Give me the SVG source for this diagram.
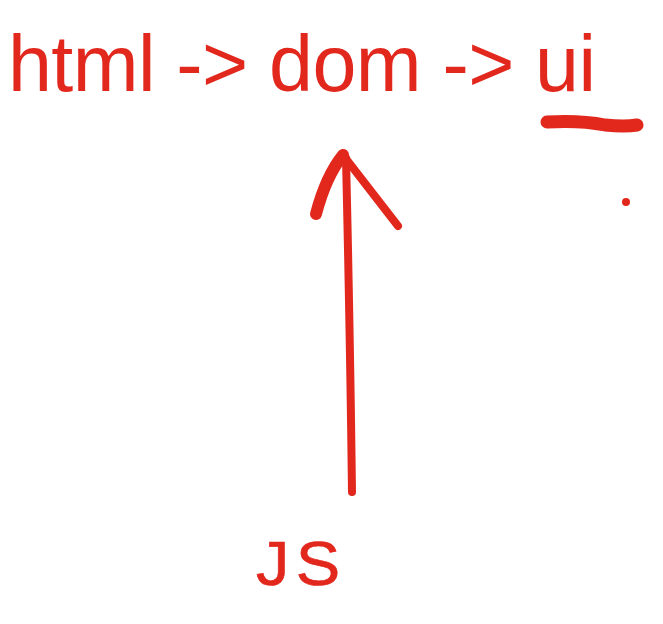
<svg xmlns="http://www.w3.org/2000/svg" width="663" height="624" viewBox="0 0 663 624">
<style>
.t{font-family:"Liberation Sans",Arial,sans-serif;fill:#e2271d}
.s{fill:none;stroke:#e2271d;stroke-linecap:round;stroke-linejoin:round}
</style>
<rect width="663" height="624" fill="#fff"/>
<g id="title"><text class="t" x="8" y="91" font-size="79" textLength="588" lengthAdjust="spacing">html -&gt; dom -&gt; ui</text></g>
<g id="underline"><path class="s" d="M547 122 Q580 120 605 125 Q625 127 637 125" stroke-width="13"/></g>
<g id="dot"><circle cx="626" cy="202" r="4" fill="#e2271d"/></g>
<g id="js"><text class="t" transform="translate(256 585) scale(1.06 1)" x="0" y="0" font-size="63" letter-spacing="6" stroke="#e2271d" stroke-width="0.6">JS</text></g>
<g id="connectors">
<path class="s" d="M352 492 Q350 330 346 158" stroke-width="8"/>
<path class="s" d="M316 214 Q326 176 343 155" stroke-width="12"/>
<path class="s" d="M343 155 Q370 190 398 226" stroke-width="8"/>
</g>
</svg>
